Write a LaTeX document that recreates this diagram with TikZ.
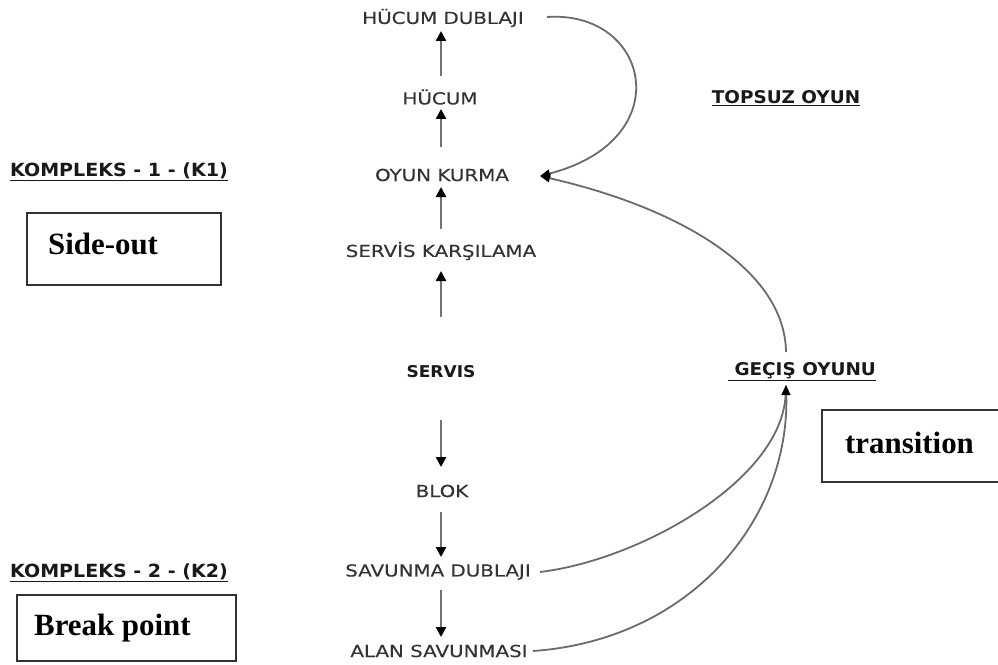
\documentclass[tikz,border=0pt]{standalone}
\usepackage{fontspec}
\setmainfont{Liberation Serif}
\newfontfamily\labfont[FakeStretch=1.2,FakeBold=0.25]{DejaVu Sans}
\newfontfamily\labbold[FakeStretch=1.05]{DejaVu Sans Bold}
\usetikzlibrary{arrows.meta}
\begin{document}
\begin{tikzpicture}[x=1bp,y=-1bp,
  lab/.style={inner sep=0pt,anchor=center,text=black!80,font=\labfont\fontsize{16.6}{18}\selectfont},
  bl/.style={inner sep=0pt,anchor=center,text=black!90,font=\labbold\fontsize{16.3}{18}\selectfont},
  head/.style={bl,font=\labbold\fontsize{17.6}{19}\selectfont},
  boxlabel/.style={draw=black!80,line width=1.3bp,inner sep=0pt},
  boxtext/.style={inner sep=0pt,font=\bfseries\fontsize{31}{34}\selectfont},
  varrow/.style={draw=black!55,line width=2.3bp,-{Triangle[length=10bp,width=10bp,black]}},
  curve/.style={draw=black!58,line width=1.8bp},
  curvea/.style={curve,-{Triangle[length=10bp,width=8bp,black]}}
]
\useasboundingbox (0,0) rectangle (998,665);
% center column
\node[lab] (hd) at (443,18) {HÜCUM DUBLAJI};
\node[lab] (hu) at (440,97) {HÜCUM};
\node[lab] (ok) at (442,175) {OYUN KURMA};
\node[lab] (sk) at (441,251) {SERVİS KARŞILAMA};
\node[bl] (se) at (441,372) {SERVIS};
\node[lab] (bk) at (442,491) {BLOK};
\node[lab] (sd) at (438,572) {SAVUNMA DUBLAJI};
\node[lab] (as) at (439,651) {ALAN SAVUNMASI};
% right headings
\node[head] (to) at (786,98) {\underline{TOPSUZ OYUN}};
\node[head] (ge) at (802,372) {\underline{\ GEÇIŞ OYUNU}};
% left headings
\node[head,anchor=west,font=\labbold\fontsize{18.2}{20}\selectfont] (k1) at (10,172) {\underline{KOMPLEKS - 1 - (K1)}};
\node[head,anchor=west,font=\labbold\fontsize{18.2}{20}\selectfont] (k2) at (10,573) {\underline{KOMPLEKS - 2 - (K2)}};
% boxes
\node[boxlabel,minimum width=194bp,minimum height=72bp] (sob) at (124,249) {};
\node[boxtext,anchor=west] (sot) at (48,244) {Side-out};
\node[boxlabel,minimum width=178bp,minimum height=72bp] (trb) at (911,446) {};
\node[boxtext,anchor=west] (trt) at (845,443) {transition};
\node[boxlabel,minimum width=219bp,minimum height=66bp] (bpb) at (126.5,628) {};
\node[boxtext,anchor=west] (bpt) at (34,628) {Break point};
% coordinates for arrows
\coordinate (okt) at (540,176);
\coordinate (get) at (786,352);
\coordinate (geb) at (786,385);
\coordinate (hde) at (547,17);
\coordinate (sde) at (540,572);
\coordinate (ase) at (533,651);
% vertical arrows
\draw[varrow] (441,76) -- (441,31);
\draw[varrow] (441,147) -- (441,109);
\draw[varrow] (441,229) -- (441,187);
\draw[varrow] (441,317) -- (441,271);
\draw[varrow] (441,420) -- (441,467);
\draw[varrow] (441,512) -- (441,557);
\draw[varrow] (441,590) -- (441,637);
% curves
\draw[curvea] (hde) .. controls (650,10) and (680,140) .. (okt);
\draw[curvea] (get) .. controls (785,270) and (680,208) .. (okt);
\draw[curvea] (sde) .. controls (640,560) and (782,480) .. (geb);
\draw[curvea] (ase) .. controls (690,640) and (790,520) .. (geb);
\end{tikzpicture}
\end{document}
